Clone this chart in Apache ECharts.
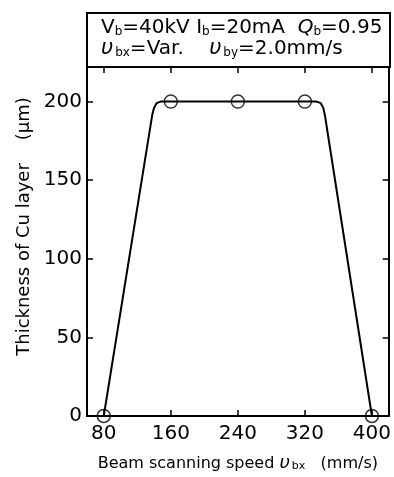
<!DOCTYPE html>
<html>
<head>
<meta charset="utf-8">
<script src="https://cdn.jsdelivr.net/npm/echarts@6/dist/echarts.min.js"></script>
<style>
html, body { margin: 0; padding: 0; background: #fff; }
#chart { width: 394px; height: 477px; }
</style>
</head>
<body>
<div id="chart"></div>
<script>
// measured points (circles)
var speeds = [80, 160, 240, 320, 400]
var thickness = [0, 200, 200, 200, 0]
// drawn curve through the points, rounded shoulders
var curveX = [80, 138, 140, 143, 148, 160, 240, 320, 334, 339, 342, 344, 400]
var curveY = [0, 192, 196, 199, 200, 200, 200, 200, 200, 199, 196, 191, 0]
var xTicks = [80, 160, 240, 320, 400]
var yTicks = [0, 50, 100, 150, 200]

var pointData = speeds.map(function (s, i) { return [s, thickness[i]] })
var curveData = curveX.map(function (s, i) { return [s, curveY[i]] })

var chart = echarts.init(document.getElementById('chart'))

var font = 'DejaVu Sans'
var axisLine = {show: true, onZero: false, lineStyle: {color: '#000', width: 2}}
var tick = function (vals) {
    return {show: true, inside: true, length: 6, customValues: vals, lineStyle: {color: '#000', width: 1.5}}
}

chart.setOption({
    animation: false,
    backgroundColor: '#fff',
    grid: {left: 87, right: 4, top: 67, bottom: 58},
    xAxis: [
        {
            type: 'value', min: 60, max: 420, position: 'bottom',
            axisLine: axisLine,
            axisTick: tick(xTicks),
            axisLabel: {customValues: xTicks, fontFamily: font, fontSize: 20, color: '#000', margin: 8},
            splitLine: {show: false},
            name: '{t|Beam scanning speed }{v|υ}{s|bx}{t|   (mm/s)}',
            nameLocation: 'middle',
            nameGap: 36,
            nameTextStyle: {
                rich: {
                    t: {fontFamily: font, fontSize: 16, color: '#000', lineHeight: 20, verticalAlign: 'bottom'},
                    v: {fontFamily: font, fontSize: 18, fontStyle: 'italic', color: '#000', lineHeight: 20, verticalAlign: 'bottom'},
                    s: {fontFamily: font, fontSize: 11, color: '#000', lineHeight: 20, verticalAlign: 'bottom', padding: [0, 0, 0, 2]}
                }
            }
        },
        {
            type: 'value', min: 60, max: 420, position: 'top',
            axisLine: axisLine,
            axisTick: tick(xTicks),
            axisLabel: {show: false},
            splitLine: {show: false}
        }
    ],
    yAxis: [
        {
            type: 'value', min: 0, max: 222, position: 'left',
            axisLine: axisLine,
            axisTick: tick(yTicks),
            axisLabel: {customValues: yTicks, fontFamily: font, fontSize: 20, color: '#000', margin: 5},
            splitLine: {show: false},
            name: 'Thickness of Cu layer    (μm)',
            nameLocation: 'middle',
            nameGap: 50,
            nameTextStyle: {fontFamily: font, fontSize: 18, color: '#000', padding: [0, 0, 0, 30]}
        },
        {
            type: 'value', min: 0, max: 222, position: 'right',
            axisLine: axisLine,
            axisTick: tick(yTicks),
            axisLabel: {show: false},
            splitLine: {show: false}
        }
    ],
    graphic: [
        {
            type: 'rect',
            shape: {x: 87, y: 13, width: 303, height: 54},
            style: {fill: '#fff', stroke: '#000', lineWidth: 2}
        },
        {
            type: 'text',
            left: 101, top: 18,
            style: {
                text: '{n|V}{s|b}{n|=40kV I}{s|b}{n|=20mA  }{q|Q}{s|b}{n|=0.95}',
                rich: {
                    n: {fontFamily: font, fontSize: 20, fill: '#000', lineHeight: 22, verticalAlign: 'bottom'},
                    q: {fontFamily: font, fontSize: 20, fontStyle: 'italic', fill: '#000', lineHeight: 22, verticalAlign: 'bottom'},
                    s: {fontFamily: font, fontSize: 12, fill: '#000', lineHeight: 20, verticalAlign: 'bottom'}
                }
            }
        },
        {
            type: 'text',
            left: 101, top: 38,
            style: {
                text: '{v|υ}{s|bx}{n|=Var.    }{v|υ}{s|by}{n|=2.0mm/s}',
                rich: {
                    n: {fontFamily: font, fontSize: 20, fill: '#000', lineHeight: 22, verticalAlign: 'bottom'},
                    v: {fontFamily: font, fontSize: 21, fontStyle: 'italic', fill: '#000', lineHeight: 22, verticalAlign: 'bottom'},
                    s: {fontFamily: font, fontSize: 12, fill: '#000', lineHeight: 20, verticalAlign: 'bottom', padding: [0, 0, 0, 2]}
                }
            }
        }
    ],
    series: [
        {
            type: 'line',
            data: curveData,
            showSymbol: false,
            lineStyle: {color: '#000', width: 2},
            z: 2
        },
        {
            type: 'scatter',
            data: pointData,
            symbol: 'circle',
            symbolSize: 13,
            clip: false,
            itemStyle: {color: 'rgba(0,0,0,0)', borderColor: '#000', borderWidth: 1.5},
            z: 3
        }
    ]
})
</script>
</body>
</html>
